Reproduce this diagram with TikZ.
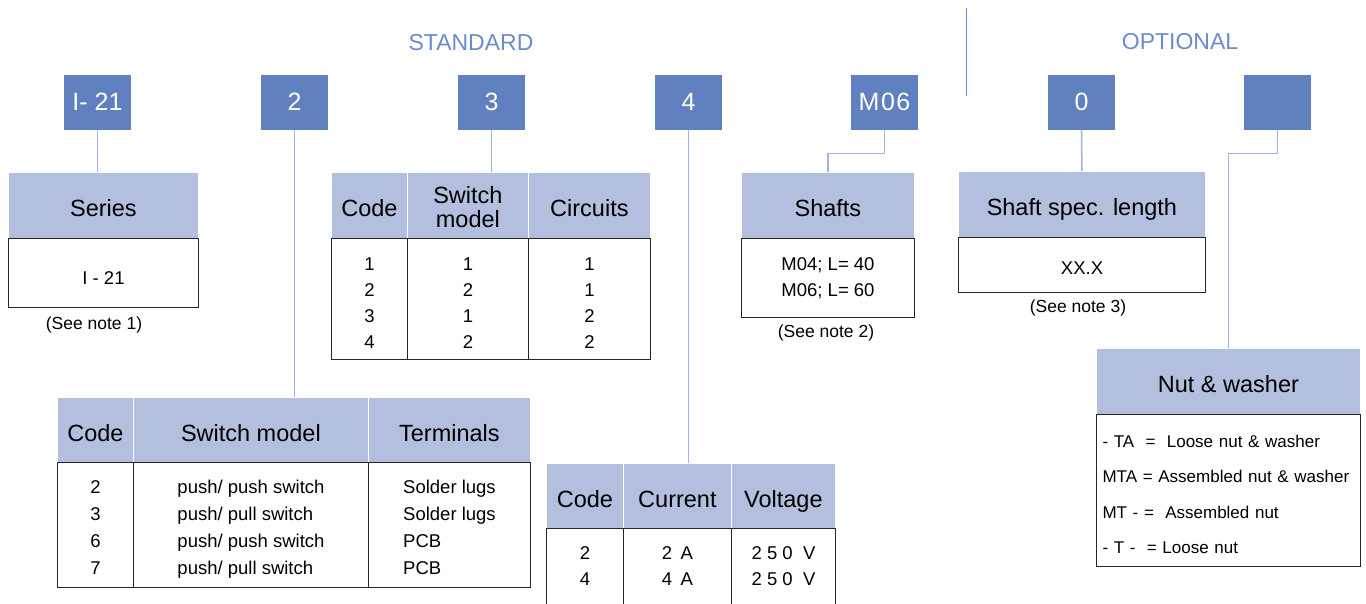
\documentclass[tikz,border=0pt]{standalone}
\usepackage{fontspec}
\setmainfont{Liberation Sans}
\usetikzlibrary{positioning}
\definecolor{codeblue}{HTML}{6180C0}
\definecolor{hdrblue}{HTML}{B4BEDF}
\definecolor{linkblue}{HTML}{A2B4DE}
\definecolor{titleblue}{HTML}{6B8BCB}
\newcommand{\hdrfont}{\fontsize{23.5}{24}\selectfont}
\newcommand{\cellfont}{\fontsize{18.5}{26}\selectfont}
\newcommand{\rowfont}{\fontsize{18.5}{26.7}\selectfont}
\newcommand{\spaced}{\addfontfeatures{LetterSpace=18}}
\tikzset{
	codebox/.style={fill=codeblue,text=white,minimum width=67,minimum height=55,inner sep=0,font=\fontsize{25}{26}\selectfont},
	hdrcell/.style={fill=hdrblue,draw=white,line width=0.8,anchor=north west,inner sep=0,align=center,font=\hdrfont,text height=23,text depth=0},
	bodycell/.style={draw=black!85,line width=1,anchor=north west,inner sep=0,align=center,font=\cellfont},
	note/.style={font=\fontsize{17.5}{18}\selectfont},
	title/.style={text=titleblue,font=\fontsize{23}{24}\selectfont},
	link/.style={draw=linkblue,line width=1.5}
}

\begin{document}
\begin{tikzpicture}[x=1pt,y=-1pt]
	\useasboundingbox (0,0) rectangle (1366,603);
	% headings
	\node (std) at (471,43)[title] {STANDARD};
	\node (opt) at (1180,42)[title] {OPTIONAL};
	\coordinate (sepA) at (966,8);
	\coordinate (sepB) at (966,96);
	\draw[titleblue,line width=1] (sepA)--(sepB);
	% code boxes
	\node (c1) at (97.5,102)[codebox] {I- 21};
	\node (c2) at (294.5,102)[codebox] {2};
	\node (c3) at (491.5,102)[codebox] {3};
	\node (c4) at (688.5,102)[codebox] {4};
	\node (cM) at (884.5,102)[codebox] {\addfontfeatures{LetterSpace=6}M06};
	\node (c0) at (1081.5,102)[codebox] {0};
	\node (cB) at (1277.5,102)[codebox] {};
	% series
	\node (series) at (8,172)[hdrcell,minimum width=190,minimum height=66] {Series};
	\node (seriesv) at (8,238)[bodycell,minimum width=190,minimum height=69,text height=22,text depth=0] {I - 21};
	\node (note1) at (94,325)[note] {(See note 1)};
	% circuits
	\node (t3code) at (331,172)[hdrcell,minimum width=76,minimum height=66] {Code};
	\node (t3model) at (407,172)[hdrcell,minimum width=121,minimum height=66,text height=45] {Switch\\model};
	\node (t3circ) at (528,172)[hdrcell,minimum width=122,minimum height=66] {Circuits};
	\node (t3codev) at (331,238)[bodycell,minimum width=76,minimum height=121,text height=98,text depth=0] {1\\2\\3\\4};
	\node (t3modelv) at (407,238)[bodycell,minimum width=121,minimum height=121,text height=98,text depth=0] {1\\2\\1\\2};
	\node (t3circv) at (528,238)[bodycell,minimum width=122,minimum height=121,text height=98,text depth=0] {1\\1\\2\\2};
	% shafts
	\node (shafts) at (741,172)[hdrcell,minimum width=173,minimum height=66] {Shafts};
	\node (shaftsv) at (741,238)[bodycell,minimum width=173,minimum height=79] {M04; L= 40\\M06; L= 60};
	\node (note2) at (826,333)[note] {(See note 2)};
	% shaft length
	\node (slen) at (958,171)[hdrcell,minimum width=247,minimum height=66] {Shaft spec. length};
	\node (slenv) at (958,237)[bodycell,minimum width=247,minimum height=55,text height=18,text depth=0] {XX.X};
	\node (note3) at (1078,308)[note] {(See note 3)};
	% terminals
	\node (t2code) at (57,397)[hdrcell,minimum width=76,minimum height=65] {Code};
	\node (t2model) at (133,397)[hdrcell,minimum width=235,minimum height=65] {Switch model};
	\node (t2term) at (368,397)[hdrcell,minimum width=162,minimum height=65] {Terminals};
	\node (t2codev) at (57,462)[bodycell,minimum width=76,minimum height=125,text height=98,text depth=0,font=\rowfont] {2\\3\\6\\7};
	\node (t2modelv) at (133,462)[bodycell,minimum width=235,minimum height=125,align=left,text height=98,text depth=0,font=\rowfont] {push/ push switch\\push/ pull switch\\push/ push switch\\push/ pull switch};
	\node (t2termv) at (368,462)[bodycell,minimum width=162,minimum height=125,align=left,text height=98,text depth=0,font=\rowfont] {Solder lugs\\Solder lugs\\PCB\\PCB};
	% ratings
	\node (t4code) at (546,463)[hdrcell,minimum width=77,minimum height=65] {Code};
	\node (t4curr) at (623,463)[hdrcell,minimum width=108,minimum height=65] {Current};
	\node (t4volt) at (731,463)[hdrcell,minimum width=104,minimum height=65] {Voltage};
	\node (t4codev) at (546,528)[bodycell,minimum width=77,minimum height=100,text depth=24] {2\\4};
	\node (t4currv) at (623,528)[bodycell,minimum width=108,minimum height=100,text depth=24] {\spaced 2 A\\\spaced 4 A};
	\node (t4voltv) at (731,528)[bodycell,minimum width=104,minimum height=100,text depth=24] {\addfontfeatures{LetterSpace=28}250 V\\\addfontfeatures{LetterSpace=28}250 V};
	% nut & washer
	\node (nut) at (1096,348)[hdrcell,minimum width=264,minimum height=66] {Nut \& washer};
	\node (nutv) at (1096,414)[bodycell,minimum width=264,minimum height=152,text width=252,align=left,text height=20,font=\fontsize{17}{35.3}\selectfont] {- TA \ =\ \ Loose nut \& washer\\MTA = Assembled nut \& washer\\MT - = \ Assembled nut\\- T - \ = Loose nut};
	% links
	\draw[link] (c1.south)--(c1.south |- series.north);
	\draw[link] (c2.south)--(c2.south |- t2model.north);
	\draw[link] (c3.south)--(c3.south |- t3model.north);
	\draw[link] (c4.south)--(c4.south |- t4curr.north);
	\draw[link] (cM.south)--++(0,24) -| (shafts.north);
	\draw[link] (c0.south)--(slen.north);
	\draw[link] (cB.south)--++(0,24) -| (nut.north);
\end{tikzpicture}
\end{document}
